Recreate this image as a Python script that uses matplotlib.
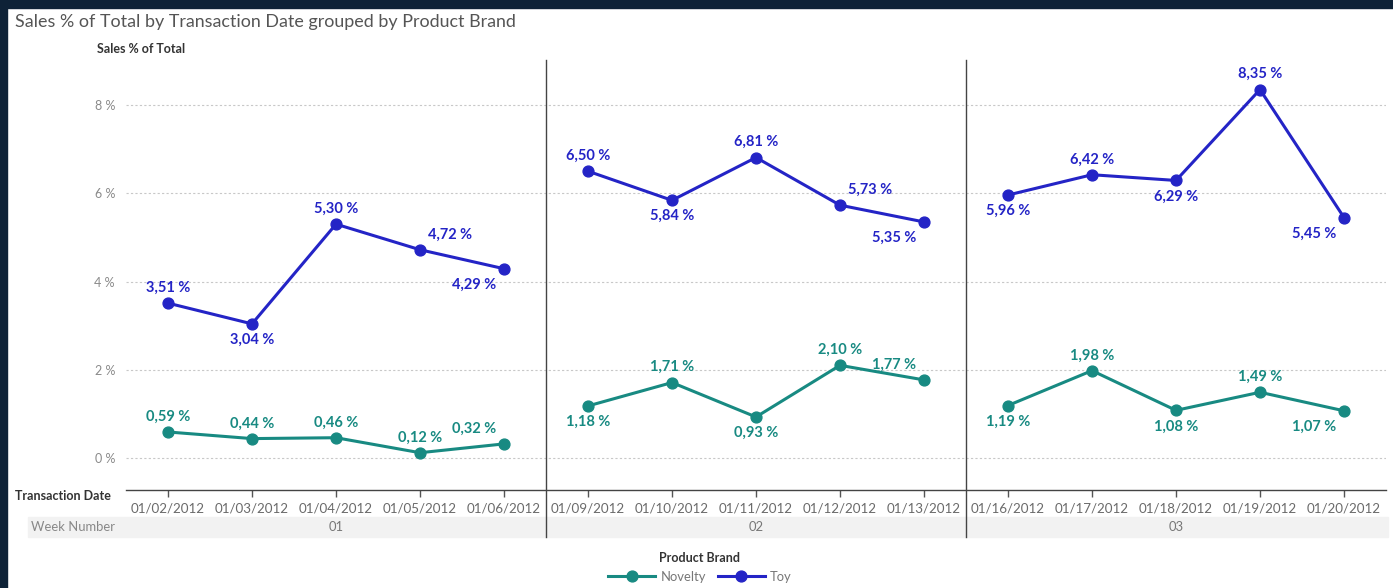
import matplotlib
matplotlib.use("Agg")
import matplotlib.pyplot as plt
from matplotlib.lines import Line2D
from matplotlib.patches import Rectangle
import matplotlib.transforms as mtransforms

# ---------------- data ----------------
dates = ["01/02/2012", "01/03/2012", "01/04/2012", "01/05/2012", "01/06/2012",
         "01/09/2012", "01/10/2012", "01/11/2012", "01/12/2012", "01/13/2012",
         "01/16/2012", "01/17/2012", "01/18/2012", "01/19/2012", "01/20/2012"]
weeks = ["01", "02", "03"]
week_sizes = [5, 5, 5]
toy = [3.51, 3.04, 5.30, 4.72, 4.29, 6.50, 5.84, 6.81, 5.73, 5.35,
       5.96, 6.42, 6.29, 8.35, 5.45]
novelty = [0.59, 0.44, 0.46, 0.12, 0.32, 1.18, 1.71, 0.93, 2.10, 1.77,
           1.19, 1.98, 1.08, 1.49, 1.07]
yticks = [0, 2, 4, 6, 8]

# label placement (vertical: 'a' above / 'b' below ; horizontal shift: -1,0,1)
toy_v = ['a', 'b', 'a', 'a', 'b', 'a', 'b', 'a', 'a', 'b', 'b', 'a', 'b', 'a', 'b']
toy_h = [0, 0, 0, 1, -1, 0, 0, 0, 1, -1, 0, 0, 0, 0, -1]
nov_v = ['a', 'a', 'a', 'a', 'a', 'b', 'a', 'b', 'a', 'a', 'b', 'a', 'b', 'a', 'b']
nov_h = [0, 0, 0, 0, -1, 0, 0, 0, 0, -1, 0, 0, 0, 0, -1]

TOY_C = "#2424C6"
NOV_C = "#188A82"
FONT = "Lato"

W, H = 1393, 588
fig = plt.figure(figsize=(W / 100, H / 100), dpi=100)
fig.patch.set_facecolor("white")

def fx(px):
    return px / W

def fy(py):
    return 1 - py / H

# dark frame
fig.add_artist(Rectangle((0, fy(8)), 1, 1, transform=fig.transFigure, color="#0E2237", zorder=0))
fig.add_artist(Rectangle((0, 0), fx(7), 1, transform=fig.transFigure, color="#0E2237", zorder=0))

left_px, right_px, top_px, bot_px = 126, 1386, 60, 490
ax = fig.add_axes([fx(left_px), fy(bot_px), fx(right_px - left_px), (bot_px - top_px) / H])

x = list(range(len(dates)))
n = len(dates)
ax.set_xlim(-0.5, n - 0.5)
ax.set_ylim(-0.725, 9.02)

for spine in ["left", "right", "top"]:
    ax.spines[spine].set_visible(False)
ax.spines["bottom"].set_color("#444444")
ax.spines["bottom"].set_linewidth(1.0)

ax.set_yticks(yticks)
ax.set_yticklabels([f"{v} %" for v in yticks], fontsize=9, color="#8a8a8a", family=FONT)
ax.tick_params(axis="y", length=0, pad=8)
ax.yaxis.grid(True, linestyle=(0, (2, 2)), color="#c8c8c8", linewidth=0.8)
ax.set_axisbelow(True)

ax.set_xticks(x)
ax.set_xticklabels(dates, fontsize=9.6, color="#6a6a6a", family=FONT)
ax.tick_params(axis="x", length=5, width=1, color="#555555", pad=4, direction="out")

# week dividers
boundaries = []
acc = 0
for s in week_sizes[:-1]:
    acc += s
    boundaries.append(acc - 0.5)
ymin_ext = -(537 - bot_px) / (bot_px - top_px)
for b in boundaries:
    ax.axvline(b, ymin=ymin_ext, ymax=1, color="#444444", linewidth=1.0, clip_on=False, zorder=5)

# series, drawn per week (lines not connected across weeks)
start = 0
for s in week_sizes:
    seg = slice(start, start + s)
    ax.plot(x[seg], novelty[seg], color=NOV_C, linewidth=2.2, marker="o", markersize=7.8, zorder=3)
    ax.plot(x[seg], toy[seg], color=TOY_C, linewidth=2.2, marker="o", markersize=7.8, zorder=3)
    start += s

def fmt(v):
    return f"{v:.2f} %".replace(".", ",")

def labels(vals, vs, hs, color):
    for xi, v, vv, hh in zip(x, vals, vs, hs):
        dy = 11 if vv == 'a' else -11.5
        dx = hh * 21.5
        ax.annotate(fmt(v), (xi, v), xytext=(dx, dy), textcoords="offset points",
                    ha="center", va="center", fontsize=10.5, fontweight="bold",
                    color=color, family=FONT, zorder=4)

labels(toy, toy_v, toy_h, TOY_C)
labels(novelty, nov_v, nov_h, NOV_C)

# titles
fig.text(fx(15), fy(22), "Sales % of Total by Transaction Date grouped by Product Brand",
         fontsize=12.9, color="#555555", family=FONT, va="center", ha="left")
fig.text(fx(97), fy(49), "Sales % of Total", fontsize=9, fontweight="bold",
         color="#333333", family=FONT, va="center", ha="left")
fig.text(fx(15), fy(496), "Transaction Date", fontsize=9, fontweight="bold",
         color="#333333", family=FONT, va="center", ha="left")

# week number band
fig.add_artist(Rectangle((fx(28), fy(537)), fx(1388 - 28), 20 / H, transform=fig.transFigure,
                         color="#f2f2f2", zorder=0))
fig.text(fx(31), fy(527), "Week Number", fontsize=9.4, color="#888888", family=FONT,
         va="center", ha="left")
trans = mtransforms.blended_transform_factory(ax.transData, fig.transFigure)
start = 0
for w, s in zip(weeks, week_sizes):
    cx = start + (s - 1) / 2
    fig.text(cx, fy(527), w, transform=trans, fontsize=9.4, color="#777777",
             family=FONT, va="center", ha="center")
    start += s

# legend
fig.text(fx(700), fy(558), "Product Brand", fontsize=9, fontweight="bold",
         color="#333333", family=FONT, va="center", ha="center")
handles = [Line2D([], [], color=NOV_C, linewidth=2.2, marker="o", markersize=7.8),
           Line2D([], [], color=TOY_C, linewidth=2.2, marker="o", markersize=7.8)]
leg = fig.legend(handles, ["Novelty", "Toy"], loc="center", bbox_to_anchor=(fx(700), fy(577)),
                 ncol=2, frameon=False, handlelength=3.6, handletextpad=0.4, columnspacing=0.9,
                 prop={"family": FONT, "size": 9.4}, borderpad=0)
for t in leg.get_texts():
    t.set_color("#777777")

fig.savefig("out.png", dpi=100, facecolor="white")
